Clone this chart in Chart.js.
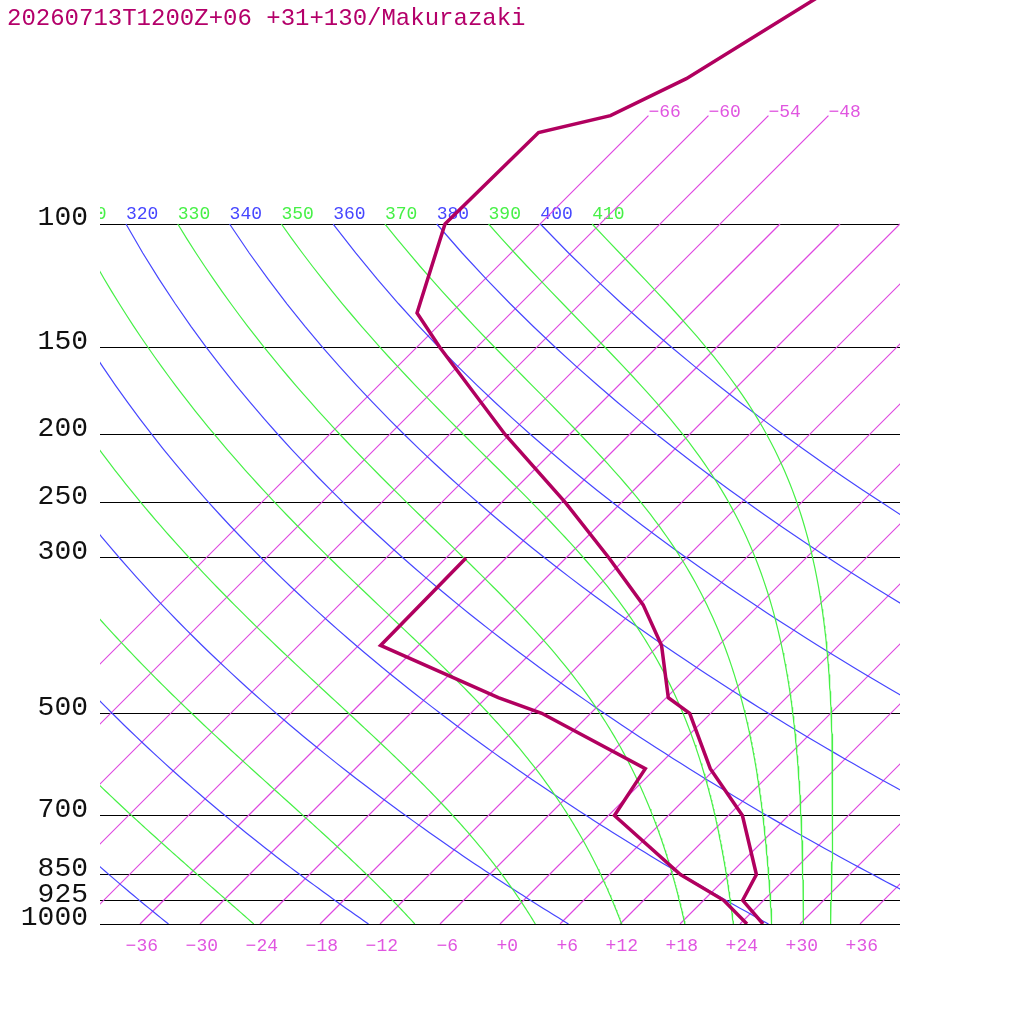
<!DOCTYPE html>
<html>
<head>
<meta charset="utf-8">
<title>Skew-T Makurazaki</title>
<script src="https://cdn.jsdelivr.net/npm/chart.js@4.4.1/dist/chart.umd.min.js"></script>
<style>
  html, body { margin: 0; padding: 0; background: #ffffff; }
  #wrap { width: 1024px; height: 1024px; }
</style>
</head>
<body>
<div id="wrap"><canvas id="skewt" width="1024" height="1024"></canvas></div>
<script>
const stationTitle = '20260713T1200Z+06 +31+130/Makurazaki';

// Sounding (hPa, degC)
const tempPressure = [1000, 925, 850, 700, 600, 500, 475, 400, 350, 300, 250, 200, 150, 134, 100, 74, 70, 62, 45];
const temperature  = [26.3, 21.9, 20.7, 13.4, 5.5, -2.1, -5.8, -11.7, -17.6, -25.7, -35.6, -48.4, -63.7, -69.4, -75.5, -75.3, -69.8, -65.9, -59.9];
const dewPressure  = [1000, 925, 850, 700, 600, 500, 475, 400, 300];
const dewpoint     = [24.7, 20.0, 13.1, 0.6, -1.0, -16.9, -22.8, -39.8, -40.0];

// Background lines of the diagram
const isotherms = [-66, -60, -54, -48, -42, -36, -30, -24, -18, -12, -6, 0, 6, 12, 18, 24, 30, 36];
const labelledIsotherms = [-66, -60, -54, -48];
const dryAdiabats = [240, 260, 280, 300, 320, 340, 360, 380, 400];
const moistAdiabats = [250, 270, 290, 310, 330, 350, 370, 390, 410];

// Axis ticks
const pressureTicks = [1000, 925, 850, 700, 500, 300, 250, 200, 150, 100];
const temperatureTicks = [-36, -30, -24, -18, -12, -6, 0, 6, 12, 18, 24, 30, 36];

const SKEW = 70;          // degC the isotherms lean per decade of pressure
const P_TOP = 47.86;      // pressure at the top edge of the plot area
const KAPPA = 0.2857;
const FONT = '"Liberation Mono", "DejaVu Sans Mono", monospace';
const MINUS = '\u2212';

const COLORS = {
    sounding: 'rgb(177, 0, 95)',
    isotherm: 'rgb(222, 72, 224)',
    isothermText: 'rgb(224, 85, 224)',
    dry: 'rgb(70, 70, 255)',
    moist: 'rgb(70, 240, 70)',
    title: 'rgb(180, 0, 106)',
};

// skewed x coordinate for a temperature at a pressure level
function skew(t, p) {
    return t + SKEW * Math.log10(1000 / p);
}

function signed(v, plus) {
    if (v < 0) return MINUS + Math.abs(v);
    return (plus ? '+' : '') + v;
}

function toPoints(pressures, temps) {
    return pressures.map((p, i) => ({ x: skew(temps[i], p), y: p }));
}

// sampling grid for the curved lines
const levels = [];
for (let p = 1000; p >= 100; p -= 10) levels.push(p);

function dryAdiabat(theta) {
    return levels.map(p => ({ x: skew(theta * Math.pow(p / 1000, KAPPA) - 273.15, p), y: p }));
}

// pseudo-adiabatic lapse rate dT/dp (K per hPa)
function moistLapse(tk, p) {
    const Rd = 287.04, Cp = 1005.7, Lv = 2.501e6, eps = 0.622;
    const tc = tk - 273.15;
    const es = 6.112 * Math.exp(17.67 * tc / (tc + 243.5));
    const rs = eps * es / (p - es);
    return (Rd * tk + Lv * rs) / (p * (Cp + Lv * Lv * rs * eps / (Rd * tk * tk)));
}

// integrate down from 100 hPa, where the line runs along theta = label
function moistAdiabat(thetaE) {
    let tk = thetaE * Math.pow(0.1, KAPPA);
    const pts = [{ x: skew(tk - 273.15, 100), y: 100 }];
    const dp = 5;
    for (let p = 100; p < 1000; p += dp) {
        const k1 = moistLapse(tk, p);
        const k2 = moistLapse(tk + k1 * dp / 2, p + dp / 2);
        const k3 = moistLapse(tk + k2 * dp / 2, p + dp / 2);
        const k4 = moistLapse(tk + k3 * dp, p + dp);
        tk += dp * (k1 + 2 * k2 + 2 * k3 + k4) / 6;
        pts.push({ x: skew(tk - 273.15, p + dp), y: p + dp });
    }
    return pts;
}

function lineSet(data, color, width) {
    return {
        data: data,
        borderColor: color,
        backgroundColor: color,
        borderWidth: width,
        showLine: true,
        pointRadius: 0,
        fill: false,
        tension: 0,
    };
}

const datasets = [];
// first datasets are drawn on top
datasets.push(lineSet(toPoints(tempPressure, temperature), COLORS.sounding, 3.5));
datasets.push(lineSet(toPoints(dewPressure, dewpoint), COLORS.sounding, 3.5));
moistAdiabats.forEach(th => datasets.push(lineSet(moistAdiabat(th), COLORS.moist, 1.2)));
dryAdiabats.forEach(th => datasets.push(lineSet(dryAdiabat(th), COLORS.dry, 1.2)));
isotherms.forEach(t => {
    const top = labelledIsotherms.includes(t) ? 70 : 100;
    datasets.push(lineSet([{ x: skew(t, 1000), y: 1000 }, { x: skew(t, top), y: top }], COLORS.isotherm, 1.2));
});

const diagramLabels = {
    id: 'diagramLabels',
    beforeDatasetsDraw(chart) {
        const { ctx, chartArea } = chart;
        const xs = chart.scales.x, ys = chart.scales.y;
        ctx.save();
        ctx.beginPath();
        ctx.rect(chartArea.left, 0, chartArea.right - chartArea.left, chartArea.bottom);
        ctx.clip();
        ctx.font = '18px ' + FONT;
        ctx.textAlign = 'left';
        ctx.textBaseline = 'alphabetic';
        const y100 = ys.getPixelForValue(100) - 5;
        dryAdiabats.forEach(th => {
            ctx.fillStyle = COLORS.dry;
            ctx.fillText(String(th), xs.getPixelForValue(dryAdiabat(th).slice(-1)[0].x), y100);
        });
        moistAdiabats.forEach(th => {
            ctx.fillStyle = COLORS.moist;
            ctx.fillText(String(th), xs.getPixelForValue(moistAdiabat(th)[0].x), y100);
        });
        ctx.fillStyle = COLORS.isothermText;
        labelledIsotherms.forEach(t => {
            ctx.fillText(signed(t, false), xs.getPixelForValue(skew(t, 70)), ys.getPixelForValue(70) + 1);
        });
        ctx.restore();
    },
    afterDraw(chart) {
        const ctx = chart.ctx;
        ctx.save();
        ctx.font = '24px ' + FONT;
        ctx.fillStyle = COLORS.title;
        ctx.textAlign = 'left';
        ctx.textBaseline = 'alphabetic';
        ctx.fillText(stationTitle, 7, 25);
        ctx.restore();
    }
};

Chart.defaults.font.family = FONT;

new Chart(document.getElementById('skewt'), {
    type: 'scatter',
    data: { datasets: datasets },
    options: {
        responsive: false,
        animation: false,
        devicePixelRatio: 1,
        events: [],
        layout: { padding: { left: 0, right: 124, top: 0, bottom: 0 } },
        plugins: {
            legend: { display: false },
            tooltip: { enabled: false },
        },
        scales: {
            x: {
                type: 'linear',
                position: 'bottom',
                min: -40,
                max: 40,
                grid: { display: false },
                border: { display: false },
                afterBuildTicks: axis => { axis.ticks = temperatureTicks.map(v => ({ value: v })); },
                afterFit: axis => { axis.height = 100; axis.paddingLeft = 0; axis.paddingRight = 0; },
                ticks: {
                    color: COLORS.isothermText,
                    font: { size: 18 },
                    align: 'end',
                    labelOffset: 18,
                    padding: 3,
                    autoSkip: false,
                    maxRotation: 0,
                    callback: v => signed(v, true),
                },
            },
            y: {
                type: 'logarithmic',
                position: 'left',
                min: P_TOP,
                max: 1000,
                reverse: true,
                grid: { color: '#000000', lineWidth: 1, drawTicks: false },
                border: { display: false },
                afterBuildTicks: axis => { axis.ticks = pressureTicks.map(v => ({ value: v })); },
                afterFit: axis => { axis.width = 100; axis.paddingTop = 0; axis.paddingBottom = 0; },
                ticks: {
                    color: '#111111',
                    font: { size: 28 },
                    padding: 12,
                    labelOffset: -6,
                    autoSkip: false,
                    callback: v => String(v),
                },
            },
        },
    },
    plugins: [diagramLabels],
});
</script>
</body>
</html>
